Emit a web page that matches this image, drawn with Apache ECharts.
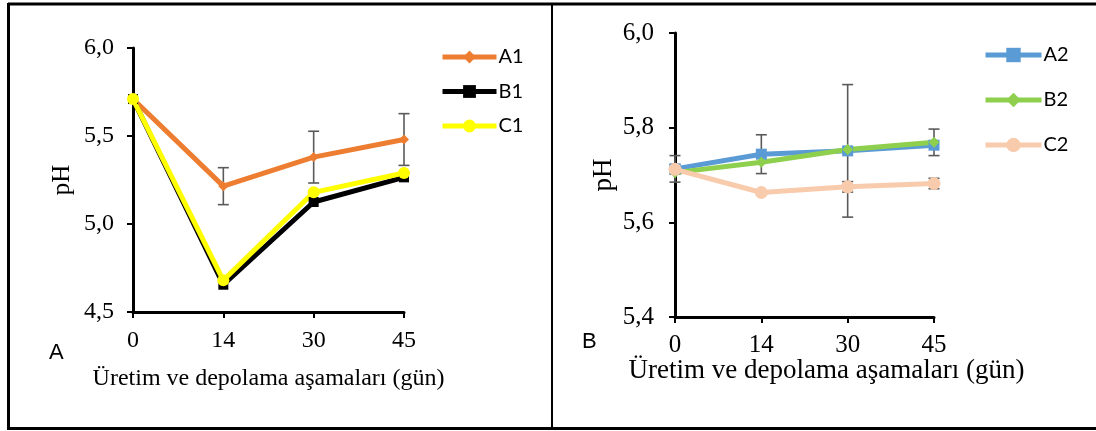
<!DOCTYPE html>
<html>
<head>
<meta charset="utf-8">
<script src="https://cdn.jsdelivr.net/npm/echarts@6/dist/echarts.min.js"></script>
<style>
html,body{margin:0;padding:0;background:#fff;}
#chart{width:1096px;height:431px;}
</style>
</head>
<body>
<div id="chart"></div>
<script>
// Categories (days)
var days = ['0', '14', '30', '45'];

// Panel A values (pH)
var A1 = [5.71, 5.215, 5.38, 5.48];
var B1 = [5.71, 4.655, 5.125, 5.265];
var C1 = [5.71, 4.68, 5.18, 5.29];
// Panel A error (± SD), 0 = none shown
var A1err = [0, 0.105, 0.147, 0.147];

// Panel B values (pH)
var A2 = [5.713, 5.744, 5.751, 5.763];
var B2 = [5.705, 5.727, 5.754, 5.769];
var C2 = [5.712, 5.663, 5.675, 5.682];
// Panel B errors
var A2err = [0.028, 0.041, 0.14, 0];
var B2err = [0, 0, 0, 0.028];
var C2err = [0.01, 0, 0.011, 0.011];

// y-axis ticks
var yA = {min: 4.5, max: 6.0, interval: 0.5};
var yB = {min: 5.4, max: 6.0, interval: 0.2};

function errData(vals, errs) {
  var out = [];
  for (var i = 0; i < vals.length; i++) {
    if (errs[i] > 0) out.push([i, vals[i], errs[i]]);
  }
  return out;
}

function errSeries(xi, yi, vals, errs) {
  return {
    type: 'custom',
    xAxisIndex: xi, yAxisIndex: yi,
    z: 1,
    silent: true,
    data: errData(vals, errs),
    renderItem: function (params, api) {
      var x = api.value(0), y = api.value(1), e = api.value(2);
      var hi = api.coord([x, y + e]);
      var lo = api.coord([x, y - e]);
      var w = 5.5;
      var st = {stroke: '#5a5a5a', lineWidth: 1.6};
      return {
        type: 'group',
        children: [
          {type: 'line', shape: {x1: hi[0], y1: hi[1], x2: lo[0], y2: lo[1]}, style: st},
          {type: 'line', shape: {x1: hi[0] - w, y1: hi[1], x2: hi[0] + w, y2: hi[1]}, style: st},
          {type: 'line', shape: {x1: lo[0] - w, y1: lo[1], x2: lo[0] + w, y2: lo[1]}, style: st}
        ]
      };
    }
  };
}

function lineSeries(name, xi, yi, data, color, symbol, size) {
  return {
    name: name, type: 'line', xAxisIndex: xi, yAxisIndex: yi,
    data: data, z: 3,
    symbol: symbol, symbolSize: size, showSymbol: true,
    lineStyle: {color: color, width: 5},
    itemStyle: {color: color},
    emphasis: {disabled: true},
    animation: false
  };
}

var comma = function (v) { return v.toFixed(1).replace('.', ','); };
var serif = 'Liberation Serif';

function xAxis(gi, labSize, labMargin, nameSize, gap) {
  return {
    type: 'category', gridIndex: gi, data: days, boundaryGap: false,
    axisLine: {lineStyle: {color: '#000', width: 3}},
    axisTick: {show: true, inside: false, length: 6, lineStyle: {color: '#000', width: 2}, alignWithLabel: true},
    axisLabel: {color: '#000', fontFamily: serif, fontSize: labSize, margin: labMargin},
    splitLine: {show: false},
    name: 'Üretim ve depolama aşamaları (gün)',
    nameLocation: 'middle', nameGap: gap, nameMoveOverlap: false,
    nameTextStyle: {color: '#000', fontFamily: serif, fontSize: nameSize}
  };
}

function yAxis(gi, cfg, labSize, labMargin, gap, nameSize) {
  return {
    type: 'value', gridIndex: gi, min: cfg.min, max: cfg.max, interval: cfg.interval,
    axisLine: {show: true, lineStyle: {color: '#000', width: 3}},
    axisTick: {show: true, inside: false, length: 6, lineStyle: {color: '#000', width: 2}},
    axisLabel: {color: '#000', fontFamily: serif, fontSize: labSize, margin: labMargin, formatter: comma},
    splitLine: {show: false},
    name: 'pH', nameLocation: 'middle', nameGap: gap, nameRotate: 90, nameMoveOverlap: false,
    nameTextStyle: {color: '#000', fontFamily: serif, fontSize: nameSize}
  };
}

var chart = echarts.init(document.getElementById('chart'), null, {renderer: 'canvas'});
var xB = xAxis(1, 25, 16, 27, 40);
xB.nameTextStyle.padding = [0, 0, 0, 44];

chart.setOption({
  animation: false,
  backgroundColor: '#fff',
  grid: [
    {left: 133, top: 48, width: 271, height: 264},
    {left: 675, top: 33, width: 259, height: 284}
  ],
  xAxis: [xAxis(0, 24, 17, 24, 55), xB],
  yAxis: [yAxis(0, yA, 24, 19, 58, 25), yAxis(1, yB, 25, 21, 58, 27)],
  legend: [
    {
      data: ['A1', 'B1', 'C1'], orient: 'vertical', left: 435, top: 42,
      itemWidth: 54, itemHeight: 16, itemGap: 14.5,
      lineStyle: {width: 5},
      textStyle: {fontFamily: 'Lato', fontSize: 20, color: '#000', padding: [0, 0, 0, -3]},
      selectedMode: false
    },
    {
      data: ['A2', 'B2', 'C2'], orient: 'vertical', left: 978, top: 40,
      itemWidth: 56, itemHeight: 18, itemGap: 25,
      lineStyle: {width: 5},
      textStyle: {fontFamily: 'Lato', fontSize: 20, color: '#000', padding: [0, 0, 0, -3]},
      selectedMode: false
    }
  ],
  series: [
    errSeries(0, 0, A1, A1err),
    lineSeries('A1', 0, 0, A1, '#ED7D31', 'diamond', 10),
    lineSeries('B1', 0, 0, B1, '#000000', 'rect', 10),
    lineSeries('C1', 0, 0, C1, '#FFFF00', 'circle', 12),
    errSeries(1, 1, A2, A2err),
    errSeries(1, 1, B2, B2err),
    errSeries(1, 1, C2, C2err),
    lineSeries('A2', 1, 1, A2, '#5B9BD5', 'rect', 11),
    lineSeries('B2', 1, 1, B2, '#8ED04E', 'diamond', 11),
    lineSeries('C2', 1, 1, C2, '#F8CBAD', 'circle', 13)
  ],
  graphic: [
    {type: 'line', shape: {x1: 8, y1: 4, x2: 1096, y2: 4}, style: {stroke: '#000', lineWidth: 3}},
    {type: 'line', shape: {x1: 8, y1: 428.5, x2: 1096, y2: 428.5}, style: {stroke: '#000', lineWidth: 3}},
    {type: 'line', shape: {x1: 8.5, y1: 3, x2: 8.5, y2: 430}, style: {stroke: '#000', lineWidth: 3}},
    {type: 'line', shape: {x1: 552, y1: 3, x2: 552, y2: 430}, style: {stroke: '#000', lineWidth: 2}},
    {type: 'text', left: 49, top: 342, style: {text: 'A', font: '22px "Liberation Sans"', fill: '#000'}},
    {type: 'text', left: 582, top: 331, style: {text: 'B', font: '22px "Liberation Sans"', fill: '#000'}}
  ]
});
</script>
</body>
</html>
